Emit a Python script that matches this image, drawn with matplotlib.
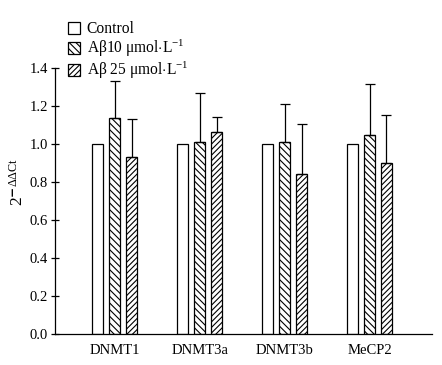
import matplotlib
matplotlib.use('Agg')
import matplotlib.pyplot as plt
import numpy as np

genes = ['DNMT1', 'DNMT3a', 'DNMT3b', 'MeCP2']
labels = ['Control', r'A$\beta$10 $\mu$mol$\cdot$L$^{-1}$', r'A$\beta$ 25 $\mu$mol$\cdot$L$^{-1}$']
control = [1.0, 1.0, 1.0, 1.0]
ab10 = [1.135, 1.01, 1.01, 1.046]
ab25 = [0.93, 1.063, 0.84, 0.898]
ab10_err = [0.195, 0.257, 0.20, 0.268]
ab25_err = [0.20, 0.077, 0.265, 0.252]

plt.rcParams['font.family'] = ['Liberation Serif', 'DejaVu Serif']
plt.rcParams['mathtext.fontset'] = 'custom'
plt.rcParams['mathtext.rm'] = 'Liberation Serif'
plt.rcParams['mathtext.it'] = 'Liberation Serif'
plt.rcParams['hatch.color'] = '#555555'
plt.rcParams['hatch.linewidth'] = 0.8

fig = plt.figure(figsize=(4.42, 3.65), dpi=100)
ax = fig.add_axes([0.124, 0.085, 0.853, 0.729])

x = np.arange(len(genes))
w = 0.13
step = 0.2
ekw = dict(lw=0.9, capthick=0.9)
ax.bar(x - step, control, w, facecolor='white', edgecolor='black', lw=0.9, label=labels[0])
ax.bar(x, ab10, w, facecolor='white', edgecolor='black', lw=0.9, hatch='\\\\\\\\\\',
       label=labels[1])
ax.bar(x + step, ab25, w, facecolor='white', edgecolor='black', lw=0.9, hatch='//////',
       label=labels[2])
ax.errorbar(x, ab10, yerr=[np.zeros(4), ab10_err], fmt='none', ecolor='black', capsize=3.7, **ekw)
ax.errorbar(x + step, ab25, yerr=[np.zeros(4), ab25_err], fmt='none', ecolor='black', capsize=3.7, **ekw)

ax.set_ylim(0, 1.4)
ax.set_xlim(-0.706, 3.734)
ax.set_yticks(np.arange(0, 1.41, 0.2))
ax.set_yticklabels(['%.1f' % v for v in np.arange(0, 1.41, 0.2)], fontsize=10.5)
ax.set_xticks(x)
ax.set_xticklabels(genes, fontsize=10.5)
ax.tick_params(axis='y', direction='inout', length=6, width=0.9, pad=2)
ax.tick_params(axis='x', length=0, pad=7)
for s in ['top', 'right']:
    ax.spines[s].set_visible(False)
ax.spines['left'].set_linewidth(0.9)
ax.spines['bottom'].set_linewidth(0.9)

ax.set_ylabel(r'2$^{\mathbf{-}\Delta\Delta\mathrm{Ct}}$', fontsize=12.5)
ax.yaxis.set_label_coords(-0.075, 0.57)

ax.legend(loc='upper left', bbox_to_anchor=(68 / 442, 1 - 21 / 365),
          bbox_transform=fig.transFigure, frameon=False, fontsize=11.2,
          handlelength=0.8, handleheight=0.8, handletextpad=0.4, labelspacing=0.05,
          borderaxespad=0, borderpad=0)

plt.savefig('out.png', dpi=100)
